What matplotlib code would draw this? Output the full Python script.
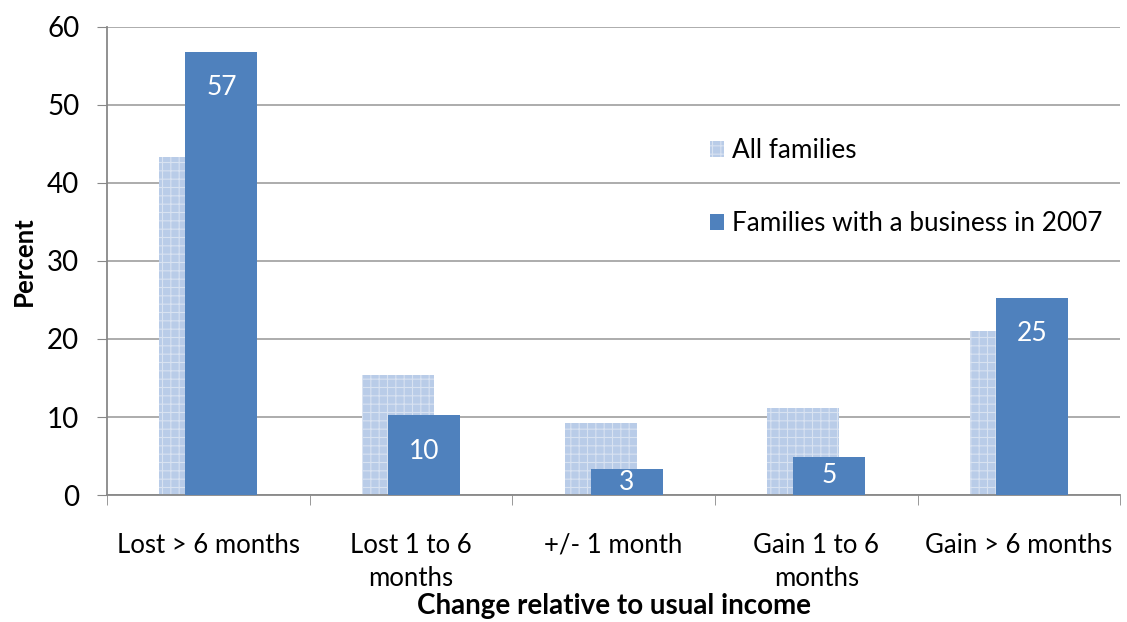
import numpy as np
import matplotlib
matplotlib.use('Agg')
import matplotlib.pyplot as plt

plt.rcParams['font.family'] = ['Lato', 'DejaVu Sans']
plt.rcParams['hatch.linewidth'] = 0.8

categories = ['Lost > 6 months', 'Lost 1 to 6\nmonths', '+/- 1 month',
              'Gain 1 to 6\nmonths', 'Gain > 6 months']
all_families = [43.3, 15.4, 9.2, 11.2, 21.0]
business_2007 = [56.8, 10.2, 3.3, 4.9, 25.3]
business_labels = ['57', '10', '3', '5', '25']
series_names = ['All families', 'Families with a business in 2007']

fig = plt.figure(figsize=(11.27, 6.22), dpi=100)
ax = fig.add_axes([0.095, 0.204, 0.899, 0.753])

x = np.arange(len(categories))
w = 0.355
off = 0.064

light = ax.bar(x - off, all_families, w, color='#b9cce8', hatch='++',
               edgecolor='#d8e2f1', linewidth=0, zorder=2, label=series_names[0])
dark = ax.bar(x + off, business_2007, w, color='#4f81bd', zorder=3,
              label=series_names[1])

# value labels inside the dark bars
for xi, v, lab in zip(x, business_2007, business_labels):
    ax.text(xi + off, max(v - 4.6, v / 2), lab, ha='center', va='center',
            color='white', fontsize=19, zorder=4)

ax.set_xlim(-0.5, len(categories) - 0.5)
ax.set_ylim(0, 60)
ax.set_yticks(range(0, 61, 10))
ax.yaxis.grid(True, color='#a6a6a6', linewidth=1.3, zorder=0)
ax.set_axisbelow(True)

ax.set_xticks(x)
ax.set_xticklabels(categories, fontsize=18.5, linespacing=1.4)
ax.set_xticks(np.arange(-0.5, len(categories)), minor=True)
ax.tick_params(axis='x', which='major', length=0, pad=27)
ax.tick_params(axis='x', which='minor', length=7, color='#888888')
ax.tick_params(axis='y', length=7, color='#888888', labelsize=20, pad=13)

for s in ['top', 'right']:
    ax.spines[s].set_visible(False)
for s in ['left', 'bottom']:
    ax.spines[s].set_color('#888888')
    ax.spines[s].set_linewidth(1.3)

ax.set_ylabel('Percent', fontsize=18.5, fontweight='bold', labelpad=8)
ax.set_xlabel('Change relative to usual income', fontsize=20, fontweight='bold',
              labelpad=2)

fig.legend(handles=[light, dark], loc='upper left', bbox_to_anchor=(0.609, 0.816),
           frameon=False, fontsize=18.8, labelspacing=1.85, handlelength=0.55,
           handleheight=0.55, handletextpad=0.3)

fig.savefig('out.png', dpi=100)
